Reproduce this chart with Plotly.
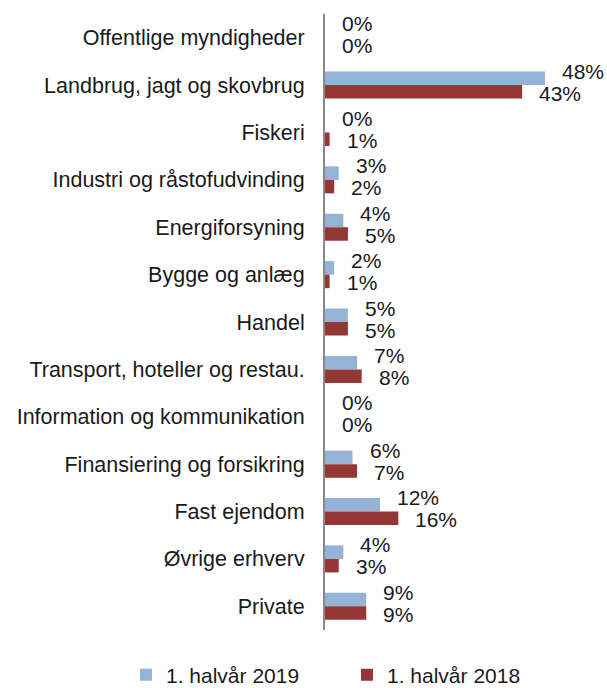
import plotly.graph_objects as go

categories = [
    "Offentlige myndigheder",
    "Landbrug, jagt og skovbrug",
    "Fiskeri",
    "Industri og råstofudvinding",
    "Energiforsyning",
    "Bygge og anlæg",
    "Handel",
    "Transport, hoteller og restau.",
    "Information og kommunikation",
    "Finansiering og forsikring",
    "Fast ejendom",
    "Øvrige erhverv",
    "Private",
]
h2019 = [0, 48, 0, 3, 4, 2, 5, 7, 0, 6, 12, 4, 9]
h2018 = [0, 43, 1, 2, 5, 1, 5, 8, 0, 7, 16, 3, 9]
series_names = ["1. halvår 2019", "1. halvår 2018"]

BLUE = "#95B3D7"
RED = "#953735"
FONT = "Liberation Sans, Arial, Helvetica, sans-serif"
FS = 21

fig = go.Figure()
fig.add_trace(go.Bar(y=categories, x=h2019, orientation="h", name=series_names[0],
                     marker=dict(color=BLUE, line=dict(width=0)), legend="legend"))
fig.add_trace(go.Bar(y=categories, x=h2018, orientation="h", name=series_names[1],
                     marker=dict(color=RED, line=dict(width=0)), legend="legend2"))

annotations = []
for cat, v19, v18 in zip(categories, h2019, h2018):
    annotations.append(dict(x=v19, y=cat, xref="x", yref="y", text=f"{v19:.0f}%",
                            showarrow=False, xanchor="left", yanchor="middle",
                            xshift=15, yshift=14, font=dict(size=FS, color="#1a1a1a", family=FONT)))
    annotations.append(dict(x=v18, y=cat, xref="x", yref="y", text=f"{v18:.0f}%",
                            showarrow=False, xanchor="left", yanchor="middle",
                            xshift=15, yshift=-8, font=dict(size=FS, color="#1a1a1a", family=FONT)))

legend_common = dict(orientation="h", xref="container", xanchor="left",
                     y=13 / 688, yref="container", yanchor="middle", itemwidth=30,
                     font=dict(size=FS, color="#1a1a1a", family=FONT),
                     bgcolor="rgba(0,0,0,0)")

n = len(categories)
fig.update_layout(
    width=607, height=688,
    margin=dict(l=325, r=7, t=14, b=58, autoexpand=False),
    paper_bgcolor="white", plot_bgcolor="white",
    barmode="group", bargap=0.43, bargroupgap=0,
    font=dict(family=FONT, size=FS, color="#1a1a1a"),
    showlegend=True,
    legend=dict(x=126 / 607, **legend_common),
    legend2=dict(x=347 / 607, **legend_common),
    annotations=annotations,
    xaxis=dict(range=[0, 60], showgrid=False, zeroline=False, showticklabels=False,
               showline=False, automargin=False),
    yaxis=dict(range=[n - 0.5, -0.5], showgrid=False, zeroline=False, showline=True,
               linecolor="#888888", linewidth=2, ticks="", automargin=False,
               ticklabelstandoff=14,
               tickfont=dict(size=21.5, color="#1a1a1a", family=FONT)),
)

fig.write_html("out.html", config={"displayModeBar": False},
               post_script="document.body.style.margin='0';")
